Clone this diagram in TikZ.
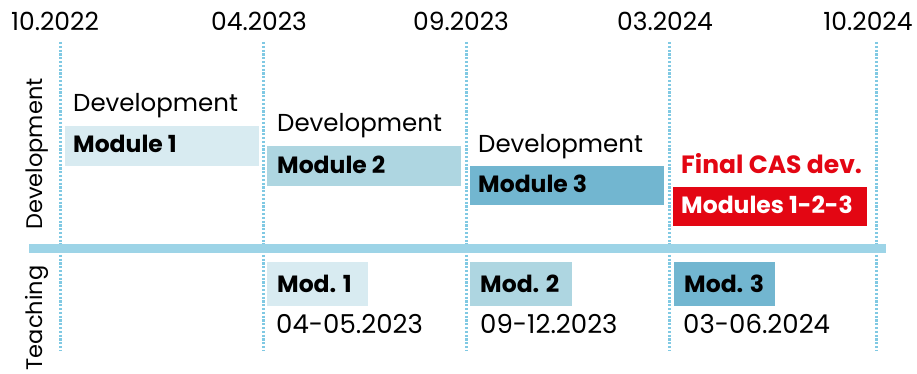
\documentclass[tikz,border=0pt]{standalone}
\usepackage{fontspec}
\setmainfont{Poppins}
\definecolor{cA}{HTML}{D8EBF1}
\definecolor{cB}{HTML}{AED6E1}
\definecolor{cC}{HTML}{72B6D0}
\definecolor{cRed}{HTML}{E30613}
\definecolor{cBar}{HTML}{9DD4E7}
\definecolor{cDot}{HTML}{80C9E3}
\begin{document}
\begin{tikzpicture}[x=1pt,y=-1pt,
  gridline/.style={cDot, line width=3pt, dash pattern=on 2.2pt off 1.6pt},
  datelbl/.style={font=\fontsize{25}{28}\selectfont, anchor=base, inner sep=0pt},
  plain/.style={font=\fontsize{24.5}{28}\selectfont, anchor=base west, inner sep=0pt},
  tdate/.style={font=\fontsize{26}{28}\selectfont, anchor=base west, inner sep=0pt},
  boxshape/.style={anchor=north west, inner sep=0pt, draw=none},
  boldlbl/.style={font=\fontsize{23.5}{26}\selectfont\bfseries, anchor=base west, inner sep=0pt},
  sidelbl/.style={font=\fontsize{22.5}{26}\selectfont, rotate=90, inner sep=0pt}]
\useasboundingbox (0,0) rectangle (917,374);

% grid lines
\foreach \i/\x in {1/60,2/263,3/466,4/669,5/876}{
  \coordinate (t\i) at (\x,42);
  \coordinate (b\i) at (\x,350);
  \draw[gridline] (t\i) -- (b\i);
}

% date labels
\node[datelbl] (d1) at (55,31) {10.2022};
\node[datelbl] (d2) at (259,31) {04.2023};
\node[datelbl] (d3) at (461,31) {09.2023};
\node[datelbl] (d4) at (665,31) {03.2024};
\node[datelbl] (d5) at (868,31) {10.2024};

% separator bar
\node[boxshape, fill=cBar, minimum width=857pt, minimum height=9pt] (bar) at (29,244) {};

% side labels
\node[sidelbl] (sdev) at (37,154) {Development};
\node[sidelbl] (steach) at (37,318) {Teaching};

% development boxes
\node[plain] (dv1) at (73,112) {Development};
\node[boxshape, fill=cA, minimum width=194pt, minimum height=40pt] (m1) at (65,126) {};
\node[boldlbl] (m1t) at (73,153) {Module 1};

\node[plain] (dv2) at (277,132) {Development};
\node[boxshape, fill=cB, minimum width=194pt, minimum height=40pt] (m2) at (267,146) {};
\node[boldlbl] (m2t) at (277,173) {Module 2};

\node[plain] (dv3) at (478,153) {Development};
\node[boxshape, fill=cC, minimum width=194pt, minimum height=39pt] (m3) at (470,166) {};
\node[boldlbl] (m3t) at (478,193) {Module 3};

\node[boldlbl, text=cRed, font=\fontsize{25}{28}\selectfont\bfseries] (fin) at (681,173) {Final CAS dev.};
\node[boxshape, fill=cRed, minimum width=194pt, minimum height=39pt] (m4) at (673,187) {};
\node[boldlbl, text=white] (m4t) at (681,213) {Modules 1-2-3};

% teaching boxes
\node[boxshape, fill=cA, minimum width=101pt, minimum height=44pt] (t1b) at (267,262) {};
\node[boldlbl] (t1t) at (277,292) {Mod. 1};
\node[tdate] (t1d) at (276,333) {04-05.2023};

\node[boxshape, fill=cB, minimum width=102pt, minimum height=44pt] (t2b) at (470,262) {};
\node[boldlbl] (t2t) at (480,292) {Mod. 2};
\node[tdate] (t2d) at (480,333) {09-12.2023};

\node[boxshape, fill=cC, minimum width=101pt, minimum height=44pt] (t3b) at (674,262) {};
\node[boldlbl] (t3t) at (684,292) {Mod. 3};
\node[tdate] (t3d) at (683,333) {03-06.2024};
\end{tikzpicture}
\end{document}
